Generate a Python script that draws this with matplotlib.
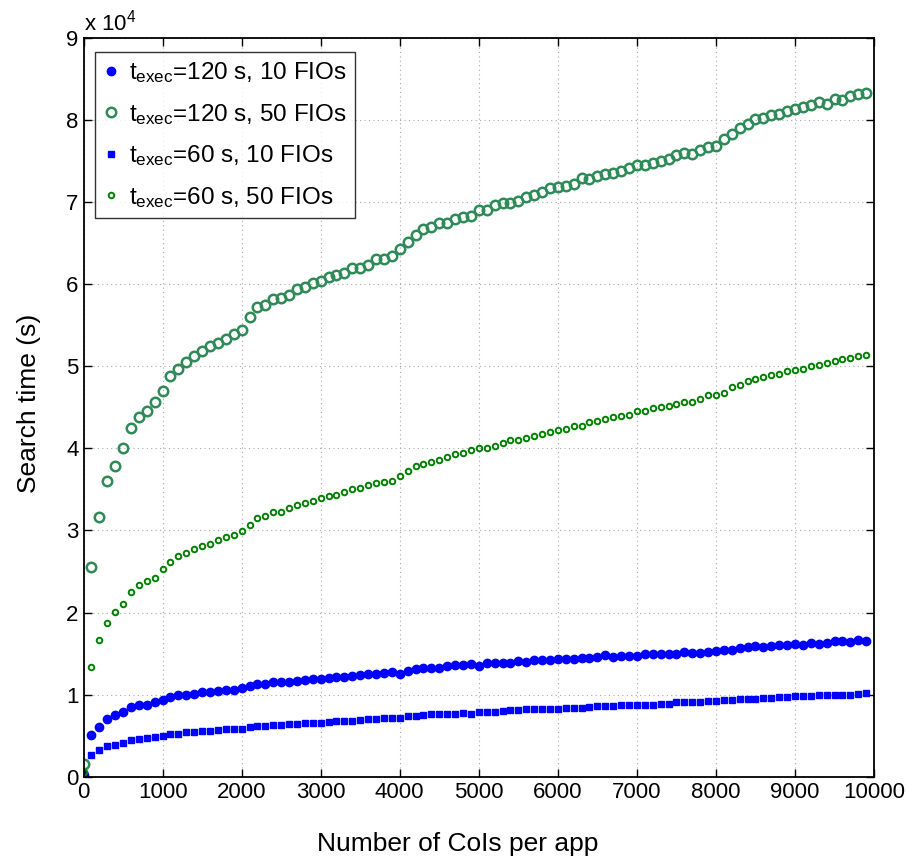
import numpy as np
import matplotlib
matplotlib.use("Agg")
import matplotlib.pyplot as plt
from matplotlib.ticker import FuncFormatter, MultipleLocator

plt.rcParams['font.family'] = ['Liberation Sans', 'DejaVu Sans']
plt.rcParams['mathtext.fontset'] = 'custom'
plt.rcParams['mathtext.rm'] = 'Liberation Sans'

# number of CoIs per app (one point every 100)
cois = np.arange(0, 10000, 100)

# search time, in units of 1e4 s
t120_f10 = [0.02, 0.51, 0.61, 0.70, 0.75, 0.79, 0.85, 0.87, 0.88, 0.91,
            0.93, 0.97, 0.99, 1.00, 1.01, 1.03, 1.03, 1.05, 1.06, 1.06,
            1.08, 1.10, 1.13, 1.13, 1.15, 1.16, 1.16, 1.17, 1.18, 1.19,
            1.19, 1.20, 1.21, 1.22, 1.23, 1.24, 1.25, 1.25, 1.26, 1.27,
            1.25, 1.29, 1.31, 1.32, 1.32, 1.33, 1.35, 1.36, 1.36, 1.37,
            1.35, 1.38, 1.39, 1.38, 1.39, 1.41, 1.40, 1.42, 1.42, 1.42,
            1.43, 1.44, 1.43, 1.45, 1.45, 1.46, 1.48, 1.46, 1.47, 1.47,
            1.47, 1.49, 1.49, 1.49, 1.49, 1.50, 1.52, 1.51, 1.51, 1.52,
            1.53, 1.54, 1.55, 1.57, 1.58, 1.59, 1.58, 1.59, 1.60, 1.60,
            1.62, 1.61, 1.63, 1.62, 1.63, 1.65, 1.65, 1.64, 1.66, 1.65]

t120_f50 = [0.15, 2.56, 3.17, 3.60, 3.78, 4.00, 4.25, 4.38, 4.46, 4.56,
            4.70, 4.88, 4.97, 5.05, 5.12, 5.19, 5.25, 5.28, 5.33, 5.39,
            5.44, 5.60, 5.72, 5.75, 5.82, 5.83, 5.87, 5.94, 5.97, 6.01,
            6.04, 6.09, 6.11, 6.14, 6.20, 6.20, 6.24, 6.31, 6.31, 6.34,
            6.43, 6.52, 6.60, 6.67, 6.70, 6.75, 6.75, 6.79, 6.82, 6.83,
            6.90, 6.90, 6.96, 6.99, 6.99, 7.02, 7.06, 7.09, 7.12, 7.17,
            7.19, 7.20, 7.22, 7.30, 7.28, 7.32, 7.34, 7.35, 7.38, 7.42,
            7.45, 7.45, 7.48, 7.50, 7.53, 7.57, 7.60, 7.59, 7.63, 7.67,
            7.69, 7.77, 7.83, 7.90, 7.95, 8.01, 8.02, 8.06, 8.08, 8.11,
            8.13, 8.16, 8.18, 8.22, 8.20, 8.26, 8.25, 8.29, 8.32, 8.33]

t60_f10 = [0.02, 0.26, 0.32, 0.37, 0.39, 0.41, 0.45, 0.46, 0.47, 0.48,
           0.50, 0.52, 0.52, 0.54, 0.55, 0.56, 0.56, 0.57, 0.58, 0.58,
           0.58, 0.60, 0.62, 0.62, 0.63, 0.63, 0.64, 0.64, 0.66, 0.66,
           0.66, 0.67, 0.68, 0.68, 0.68, 0.69, 0.70, 0.70, 0.71, 0.72,
           0.71, 0.74, 0.74, 0.75, 0.76, 0.76, 0.77, 0.77, 0.78, 0.77,
           0.79, 0.79, 0.79, 0.80, 0.81, 0.81, 0.82, 0.82, 0.82, 0.82,
           0.83, 0.84, 0.84, 0.84, 0.85, 0.86, 0.86, 0.86, 0.87, 0.87,
           0.88, 0.88, 0.88, 0.89, 0.89, 0.91, 0.91, 0.91, 0.91, 0.92,
           0.92, 0.93, 0.93, 0.95, 0.95, 0.95, 0.96, 0.96, 0.97, 0.97,
           0.98, 0.98, 0.98, 0.99, 0.99, 0.99, 1.00, 1.00, 1.01, 1.02]

t60_f50 = [0.06, 1.34, 1.66, 1.87, 2.01, 2.11, 2.25, 2.33, 2.38, 2.42,
           2.53, 2.62, 2.69, 2.73, 2.77, 2.81, 2.84, 2.88, 2.92, 2.95,
           2.99, 3.07, 3.15, 3.18, 3.22, 3.23, 3.28, 3.31, 3.33, 3.36,
           3.39, 3.42, 3.43, 3.47, 3.50, 3.52, 3.56, 3.58, 3.59, 3.60,
           3.66, 3.72, 3.78, 3.81, 3.83, 3.86, 3.89, 3.93, 3.94, 3.98,
           4.00, 4.00, 4.03, 4.06, 4.10, 4.10, 4.13, 4.15, 4.18, 4.20,
           4.23, 4.24, 4.27, 4.27, 4.32, 4.33, 4.36, 4.38, 4.40, 4.41,
           4.45, 4.45, 4.49, 4.50, 4.52, 4.54, 4.57, 4.57, 4.60, 4.65,
           4.65, 4.68, 4.75, 4.77, 4.82, 4.85, 4.87, 4.89, 4.91, 4.94,
           4.95, 4.97, 5.00, 5.02, 5.04, 5.07, 5.09, 5.10, 5.12, 5.14]

labels = [r'$\mathregular{t_{exec}}$=120 s, 10 FIOs',
          r'$\mathregular{t_{exec}}$=120 s, 50 FIOs',
          r'$\mathregular{t_{exec}}$=60 s, 10 FIOs',
          r'$\mathregular{t_{exec}}$=60 s, 50 FIOs']

scale = 1e4

fig = plt.figure(figsize=(9.08, 8.64), dpi=100)
ax = fig.add_axes([0.092, 0.101, 0.8706, 0.855])

ax.plot(cois, np.array(t120_f10) * scale, 'o', color='blue', markersize=6.0,
        markeredgecolor='blue', label=labels[0])
ax.plot(cois, np.array(t120_f50) * scale, 'o', color='#2E8B57', markersize=6.8,
        markerfacecolor='none', markeredgewidth=1.8, label=labels[1])
ax.plot(cois, np.array(t60_f10) * scale, 's', color='blue', markersize=4.0,
        label=labels[2])
ax.plot(cois, np.array(t60_f50) * scale, 'o', color='green', markersize=4.0,
        markerfacecolor='none', markeredgewidth=1.4, label=labels[3])

ax.set_xlim(0, 10000)
ax.set_ylim(0, 9e4)
ax.xaxis.set_major_locator(MultipleLocator(1000))
ax.yaxis.set_major_locator(MultipleLocator(1e4))
ax.yaxis.set_major_formatter(FuncFormatter(lambda v, p: f'{v / scale:.0f}'))
ax.tick_params(direction='in', top=True, right=True, labelsize=16,
               length=6, width=1)
ax.grid(True, linestyle=(0, (1, 3)), color='#aaaaaa', linewidth=0.8)
for s in ax.spines.values():
    s.set_linewidth(1.3)

ax.text(0.0, 1.004, r'x 10$^{\mathregular{4}}$', transform=ax.transAxes,
        fontsize=16, ha='left', va='bottom')

ax.set_xlabel('Number of CoIs per app', fontsize=19)
ax.set_ylabel('Search time (s)', fontsize=19)
ax.xaxis.set_label_coords(0.473, -0.075)
ax.yaxis.set_label_coords(-0.054, 0.505)

leg = ax.legend(loc='upper left', bbox_to_anchor=(0.0145, 0.981), borderaxespad=0,
                fontsize=17.5, frameon=True, fancybox=False, handlelength=0.6,
                handletextpad=0.45, labelspacing=0.68, borderpad=0.35)
leg.get_frame().set_edgecolor('black')
leg.get_frame().set_linewidth(1.0)

fig.savefig('out.png', dpi=100)
